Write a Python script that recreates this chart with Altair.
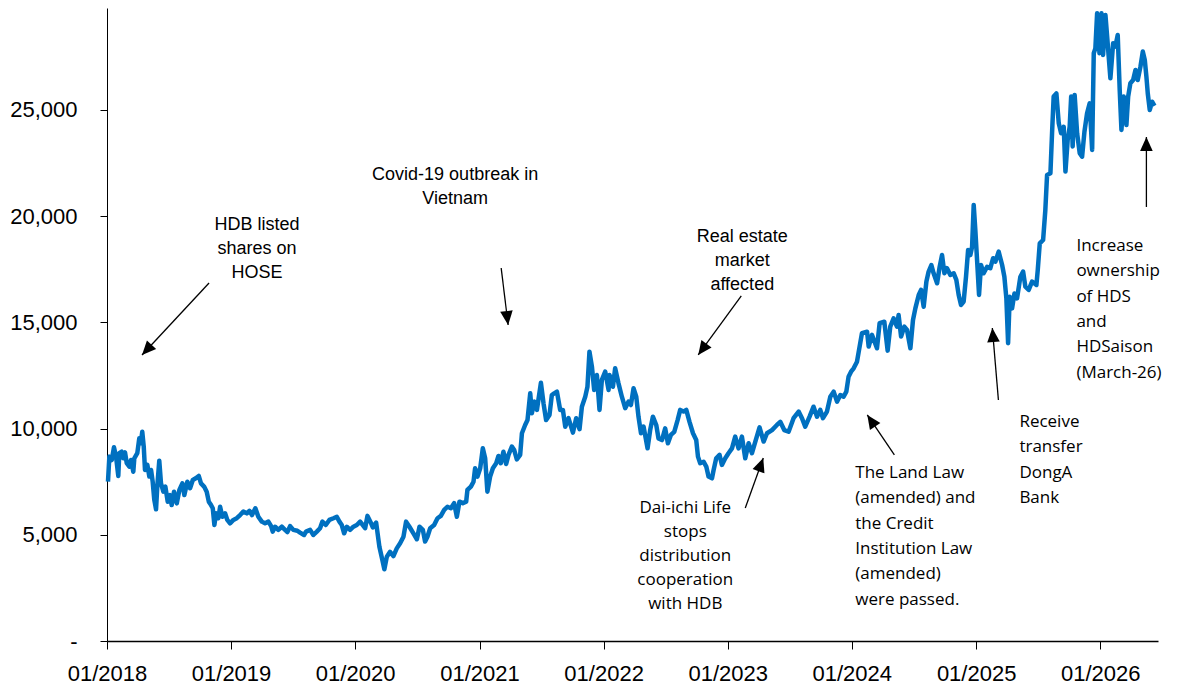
import math
import altair as alt
import pandas as pd

# ---------------- data ----------------
dec_year = [
    2018.008, 2018.019, 2018.038, 2018.056, 2018.073, 2018.091, 2018.099, 2018.118, 2018.131, 2018.145,
    2018.159, 2018.180, 2018.193, 2018.212, 2018.220, 2018.244, 2018.260, 2018.272, 2018.284, 2018.296,
    2018.306, 2018.325, 2018.341, 2018.355, 2018.368, 2018.381, 2018.395, 2018.405, 2018.421, 2018.435,
    2018.454, 2018.470, 2018.489, 2018.508, 2018.521, 2018.540, 2018.562, 2018.583, 2018.607, 2018.623,
    2018.647, 2018.669, 2018.691, 2018.715, 2018.739, 2018.757, 2018.782, 2018.803, 2018.820, 2018.838,
    2018.852, 2018.865, 2018.878, 2018.897, 2018.911, 2018.929, 2018.951, 2018.969, 2018.991, 2019.018,
    2019.045, 2019.072, 2019.098, 2019.126, 2019.147, 2019.168, 2019.195, 2019.219, 2019.247, 2019.273,
    2019.300, 2019.322, 2019.335, 2019.354, 2019.380, 2019.408, 2019.434, 2019.453, 2019.475, 2019.501,
    2019.533, 2019.555, 2019.587, 2019.603, 2019.636, 2019.662, 2019.690, 2019.716, 2019.735, 2019.762,
    2019.791, 2019.824, 2019.851, 2019.872, 2019.891, 2019.910, 2019.931, 2019.958, 2019.985, 2020.012,
    2020.039, 2020.079, 2020.098, 2020.125, 2020.141, 2020.168, 2020.194, 2020.218, 2020.234, 2020.254,
    2020.280, 2020.307, 2020.334, 2020.361, 2020.388, 2020.409, 2020.436, 2020.468, 2020.496, 2020.517,
    2020.544, 2020.562, 2020.581, 2020.603, 2020.635, 2020.662, 2020.689, 2020.716, 2020.742, 2020.770,
    2020.796, 2020.818, 2020.839, 2020.866, 2020.893, 2020.903, 2020.931, 2020.952, 2020.965, 2020.984,
    2021.006, 2021.027, 2021.046, 2021.064, 2021.086, 2021.108, 2021.135, 2021.153, 2021.172, 2021.193,
    2021.215, 2021.234, 2021.261, 2021.280, 2021.301, 2021.328, 2021.342, 2021.368, 2021.387, 2021.409,
    2021.422, 2021.443, 2021.463, 2021.495, 2021.516, 2021.537, 2021.564, 2021.583, 2021.602, 2021.624,
    2021.650, 2021.672, 2021.691, 2021.717, 2021.753, 2021.779, 2021.806, 2021.825, 2021.852, 2021.870,
    2021.886, 2021.906, 2021.924, 2021.946, 2021.967, 2021.986, 2022.013, 2022.040,
    2022.048, 2022.075, 2022.093, 2022.120, 2022.147, 2022.174, 2022.201, 2022.220, 2022.241, 2022.263,
    2022.281, 2022.301, 2022.322, 2022.354, 2022.375, 2022.397, 2022.424, 2022.442, 2022.470, 2022.496,
    2022.518, 2022.542, 2022.569, 2022.596, 2022.617, 2022.644, 2022.666, 2022.692, 2022.720, 2022.746,
    2022.760, 2022.778, 2022.805, 2022.827, 2022.845, 2022.873, 2022.886, 2022.907, 2022.934, 2022.953,
    2022.980, 2023.006, 2023.034, 2023.060, 2023.087, 2023.114, 2023.141, 2023.168, 2023.195, 2023.222,
    2023.256, 2023.289, 2023.316, 2023.356, 2023.396, 2023.423, 2023.455, 2023.490, 2023.530, 2023.571,
    2023.598, 2023.624, 2023.659, 2023.691, 2023.719, 2023.745, 2023.767, 2023.799, 2023.826, 2023.853,
    2023.880, 2023.907, 2023.933, 2023.955, 2023.973, 2023.993, 2024.014, 2024.041, 2024.062,
    2024.081, 2024.122, 2024.135, 2024.162, 2024.202, 2024.223, 2024.261, 2024.288, 2024.309, 2024.336,
    2024.363, 2024.376, 2024.396, 2024.422, 2024.444, 2024.471, 2024.492, 2024.511, 2024.538, 2024.557,
    2024.578, 2024.600, 2024.618, 2024.640, 2024.658, 2024.686, 2024.707, 2024.726, 2024.745, 2024.766,
    2024.793, 2024.820, 2024.841, 2024.860, 2024.879, 2024.900, 2024.919, 2024.936, 2024.954, 2024.968,
    2024.981, 2024.994, 2025.008, 2025.024, 2025.040, 2025.061, 2025.089, 2025.115, 2025.137, 2025.156,
    2025.182, 2025.210, 2025.228, 2025.244, 2025.258, 2025.271, 2025.290, 2025.309, 2025.330, 2025.357,
    2025.379, 2025.397, 2025.424, 2025.451, 2025.486, 2025.497, 2025.513, 2025.540, 2025.558, 2025.572,
    2025.599, 2025.612, 2025.625, 2025.647, 2025.666, 2025.685, 2025.706, 2025.720, 2025.738, 2025.754,
    2025.766, 2025.778, 2025.794, 2025.814, 2025.835, 2025.854, 2025.873, 2025.894, 2025.915, 2025.935,
    2025.948, 2025.961, 2025.975, 2025.994, 2026.010, 2026.023, 2026.042, 2026.060, 2026.082, 2026.104,
    2026.122, 2026.141, 2026.157, 2026.171, 2026.189, 2026.211, 2026.225, 2026.243, 2026.265, 2026.284,
    2026.302, 2026.324, 2026.343, 2026.359, 2026.372, 2026.383, 2026.399, 2026.418, 2026.437,
]

price = [
    7500, 8680, 8520, 9120, 8680, 7770, 8840, 8910, 8600, 8880,
    8370, 8210, 8520, 7970, 8600, 8840, 9540, 9310, 9850, 9150,
    8050, 8290, 7740, 8050, 7500, 6640, 6200, 7270, 8490, 7420,
    7030, 7270, 6560, 6870, 6400, 7030, 6480, 7110, 7420, 6870,
    7500, 7190, 7580, 7660, 7770, 7420, 7270, 7030, 6560, 6400,
    6250, 5460, 6010, 5780, 6320, 5850, 6010, 5700, 5540, 5700,
    5780, 5930, 6090, 6010, 6130, 5930, 6250, 5850, 5620, 5540,
    5620, 5410, 5150, 5380, 5230, 5380, 5230, 5130, 5410, 5230,
    5190, 5100, 4990, 5150, 5230, 4990, 5150, 5310, 5620, 5460,
    5700, 5780, 5850, 5620, 5460, 5070, 5380, 5230, 5380, 5460,
    5620, 5310, 5890, 5570, 5350, 5570, 4440, 3810, 3380, 3970,
    4200, 4000, 4360, 4600, 4910, 5620, 5380, 5070, 4790, 5380,
    5230, 4680, 4910, 5310, 5460, 5780, 5890, 6170, 6320, 6250,
    6490, 5850, 6560, 6490, 6560, 7110, 7270, 7500, 8130, 7740,
    8130, 9070, 8600, 7030, 7740, 8130, 8370, 8710, 8370, 8910,
    8330, 8760, 9150, 8990, 8550, 8760, 9780, 10170, 10400, 11660,
    10720, 11270, 10880, 12160, 11190, 10400, 10640, 11580, 11660, 11740,
    10880, 10880, 10090, 10490, 9810, 10490, 9970, 11030, 11500, 11970,
    13620, 12910, 11820, 12520, 10880, 12290, 12680, 11820,
    12520, 11970, 12840, 12130, 11500, 10960, 11270, 11110, 11900, 11500,
    10560, 9780, 10090, 9070, 9930, 10560, 10170, 9540, 9460, 10010,
    9310, 9700, 9850, 10400, 10880, 10800, 10880, 10320, 9780, 9460,
    8680, 8370, 8440, 8210, 7740, 7660, 8050, 8600, 8760, 8290,
    8600, 8840, 9070, 9620, 9070, 9620, 8600, 9310, 8840, 9390,
    10060, 9390, 9780, 9930, 10170, 10320, 9930, 9850, 10490, 10800,
    10490, 10090, 10560, 11030, 10560, 10880, 10490, 10800, 11500, 11740,
    11270, 11580, 11500, 11740, 12440, 12680, 12840, 13150, 13860,
    14490, 14560, 13860, 14410, 13780, 14960, 15030, 13670, 14800, 15190,
    14800, 15350, 14330, 14800, 14640, 13780, 15110, 15660, 16290, 16530,
    15740, 16920, 17390, 17700, 17310, 16840, 17620, 18170, 17310, 17550,
    17230, 17310, 17000, 16290, 15820, 15980, 17150, 18410, 18170, 18560,
    20530, 19350, 17940, 16290, 17700, 17310, 17620, 17550, 18020, 17860,
    18330, 17700, 17150, 16130, 14020, 16210, 15660, 16360, 16130, 17150,
    17390, 16680, 16530, 16920, 16760, 17470, 18720, 18880, 20290, 21940,
    22020, 23900, 25630, 25780, 24370, 23900, 24210, 22100, 23590, 24210,
    25630, 23280, 25710, 23900, 22960, 22800, 23980, 24840, 25310, 23120,
    27670, 27900, 29550, 27670, 29550, 27590, 29470, 28140, 26490, 28140,
    27980, 28530, 25940, 24060, 25630, 24290, 25630, 26260, 26410, 26880,
    26410, 27040, 27750, 27350, 26570, 25780, 25000, 25390, 25190,
]

year_ticks = [2018, 2019, 2020, 2021, 2022, 2023, 2024, 2025, 2026]
y_ticks = [0, 5000, 10000, 15000, 20000, 25000]

# annotation texts (position in decimal year / price)
notes_narrow = [
    ("HDB listed\nshares on\nHOSE", 2019.209, 19350),
    ("Covid-19 outbreak in\nVietnam", 2020.804, 21700),
    ("Real estate\nmarket\naffected", 2023.117, 18785),
]
notes_open_center = [
    ("Dai-ichi Life\nstops\ndistribution\ncooperation\nwith HDB", 2022.658, 6030),
]
notes_open_left = [
    ("The Land Law\n(amended) and\nthe Credit\nInstitution Law\n(amended)\nwere passed.", 2024.027, 7670),
    ("Receive\ntransfer\nDongA\nBank", 2025.349, 10075),
    ("Increase\nownership\nof HDS\nand\nHDSaison\n(March-26)", 2025.808, 18360),
]
# arrows: start (year, price) -> tip (year, price)
arrow_start_year = [2018.822, 2021.175, 2023.109, 2023.141, 2024.342, 2025.180, 2026.372]
arrow_start_price = [16855, 17561, 16243, 6262, 8757, 11346, 20433]
arrow_tip_year = [2018.282, 2021.231, 2022.762, 2023.286, 2024.124, 2025.131, 2026.372]
arrow_tip_price = [13465, 14877, 13465, 8616, 10640, 14736, 23728]

# ---------------- build ----------------
W, H = 1051, 633
Y_MAX = 29800
X_END = pd.Timestamp("2026-06-20")
SPAN = (X_END - pd.Timestamp("2018-01-01")).days / 365.25


def to_iso(t):
    ts = pd.Timestamp("2018-01-01") + pd.to_timedelta((t - 2018.0) * 365.25, unit="D")
    return ts.strftime("%Y-%m-%dT%H:%M:%S")


df = pd.DataFrame({"date": [to_iso(t) for t in dec_year], "price": price})

rows = []
for x1, y1, x2, y2 in zip(arrow_start_year, arrow_start_price, arrow_tip_year, arrow_tip_price):
    px1 = (x1 - 2018) / SPAN * W
    px2 = (x2 - 2018) / SPAN * W
    py1 = H * (1 - y1 / Y_MAX)
    py2 = H * (1 - y2 / Y_MAX)
    ang = math.degrees(math.atan2(px2 - px1, -(py2 - py1))) % 360
    rows.append({"x1": to_iso(x1), "y1": y1, "x2": to_iso(x2), "y2": y2, "angle": ang})
arrows = pd.DataFrame(rows)


def notes_df(notes):
    return pd.DataFrame([{"text": t, "x": to_iso(x), "y": y} for t, x, y in notes])


xscale = alt.Scale(domain=[alt.DateTime(year=2018, month=1, date=1),
                           alt.DateTime(year=2026, month=6, date=20)])
yscale = alt.Scale(domain=[0, Y_MAX], nice=False, zero=True)

NARROW = "Liberation Sans Narrow, Liberation Sans"
OPEN = "Open Sans, Noto Sans, sans-serif"

x_axis = alt.Axis(
    values=[alt.DateTime(year=y, month=1, date=1) for y in year_ticks],
    format="%m/%Y", title=None, grid=False,
    domainColor="black", domainWidth=1.5, tickColor="black", tickSize=8, tickWidth=1,
    labelFont=NARROW, labelFontSize=22, labelColor="black", labelPadding=14,
    labelFlush=False, labelOverlap=False,
)
y_axis = alt.Axis(
    values=y_ticks, title=None, grid=False,
    labelExpr="datum.value == 0 ? '-\u00a0\u00a0' : format(datum.value, ',')",
    domainColor="black", domainWidth=1, tickColor="black", tickSize=7, tickWidth=1,
    labelFont=NARROW, labelFontSize=22, labelColor="black", labelPadding=23,
)

line = alt.Chart(df).mark_line(color="#0070C0", strokeWidth=4.5, strokeJoin="round").encode(
    x=alt.X("date:T", scale=xscale, axis=x_axis),
    y=alt.Y("price:Q", scale=yscale, axis=y_axis),
)

shaft = alt.Chart(arrows).mark_rule(color="black", strokeWidth=1.3).encode(
    x=alt.X("x1:T", scale=xscale, axis=x_axis),
    y=alt.Y("y1:Q", scale=yscale, axis=y_axis),
    x2="x2:T", y2="y2:Q",
)
head = alt.Chart(arrows).mark_point(
    shape="M0,0L-0.45,1L0.45,1Z", filled=True, color="black", size=784, opacity=1, strokeWidth=0
).encode(
    x=alt.X("x2:T", scale=xscale, axis=x_axis),
    y=alt.Y("y2:Q", scale=yscale, axis=y_axis),
    angle=alt.Angle("angle:Q", scale=None),
)


def text_layer(notes, font, size, align, lh):
    return alt.Chart(notes_df(notes)).mark_text(
        font=font, fontSize=size, align=align, baseline="alphabetic",
        lineBreak="\n", lineHeight=lh, color="black",
    ).encode(
        x=alt.X("x:T", scale=xscale, axis=x_axis),
        y=alt.Y("y:Q", scale=yscale, axis=y_axis),
        text="text:N",
    )


t1 = text_layer(notes_narrow, NARROW, 18, "center", 24)
t2 = text_layer(notes_open_center, OPEN, 17, "center", 24)
t3 = text_layer(notes_open_left, OPEN, 17, "left", 25.3)

chart = alt.layer(line, shaft, head, t1, t2, t3).properties(
    width=W, height=H,
    autosize=alt.AutoSizeParams(type="none"),
    padding={"left": 107, "top": 8, "right": 21, "bottom": 50},
    background="white",
).configure_view(stroke=None)

chart.save("out.html", embed_options={"renderer": "svg", "actions": False})
